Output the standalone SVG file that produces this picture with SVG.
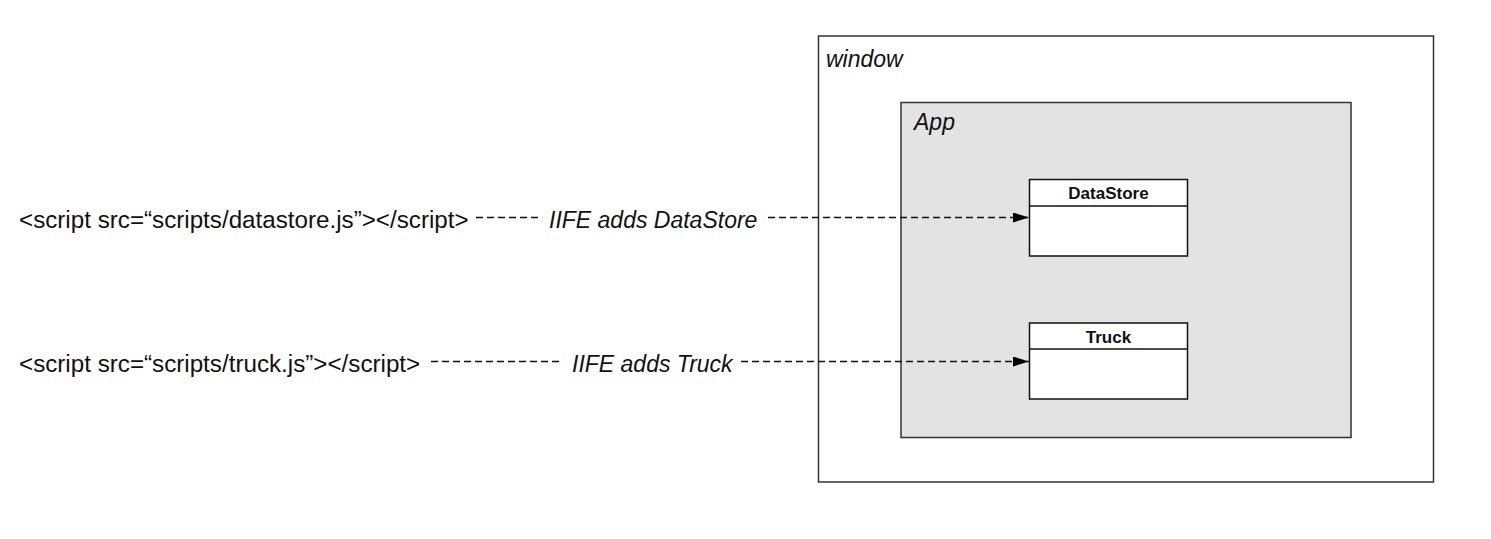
<svg xmlns="http://www.w3.org/2000/svg" width="1491" height="539" viewBox="0 0 1491 539">
<style>
.plain{font-family:"Liberation Sans",Arial,sans-serif;font-size:24.2px;fill:#111}
.it{font-family:"Liberation Sans",Arial,sans-serif;font-style:italic;font-size:23px;fill:#111}
.bold{font-family:"Liberation Sans",Arial,sans-serif;font-weight:bold;font-size:17px;fill:#111;text-anchor:middle}
.frame{stroke:#333;stroke-width:1.5}
.dash{stroke:#111;stroke-width:1.3;stroke-dasharray:7 4;fill:none}
</style>
<defs>
<marker id="arr" markerWidth="16" markerHeight="10" refX="16" refY="5" orient="auto" markerUnits="userSpaceOnUse">
<path d="M0,0 L16,5 L0,10 Z" fill="#000"/>
</marker>
</defs>
<rect width="1491" height="539" fill="#fff"/>
<g id="window">
<rect class="frame" x="818.5" y="36" width="615" height="446" fill="#fff"/>
<text class="it" x="826" y="66.5">window</text>
</g>
<g id="app">
<rect class="frame" x="901" y="102.5" width="450" height="335" fill="#e3e3e3"/>
<text class="it" x="914" y="129.5">App</text>
</g>
<g id="datastore">
<rect x="1029.5" y="179.5" width="158" height="76.5" fill="#fff" stroke="#111" stroke-width="1.5"/>
<line x1="1029.5" y1="206" x2="1187.5" y2="206" stroke="#111" stroke-width="1.5"/>
<text class="bold" x="1108.5" y="198.5">DataStore</text>
</g>
<g id="truck">
<rect x="1029.5" y="323" width="158" height="76" fill="#fff" stroke="#111" stroke-width="1.5"/>
<line x1="1029.5" y1="349" x2="1187.5" y2="349" stroke="#111" stroke-width="1.5"/>
<text class="bold" x="1108.5" y="342.5">Truck</text>
</g>
<g id="script-datastore">
<text class="plain" x="19" y="227.5">&lt;script src=“scripts/datastore.js”&gt;&lt;/script&gt;</text>
</g>
<g id="script-truck">
<text class="plain" x="19" y="371.5">&lt;script src=“scripts/truck.js”&gt;&lt;/script&gt;</text>
</g>
<g id="connectors">
<line class="dash" x1="476" y1="217.5" x2="541" y2="217.5"/>
<text class="it" x="549" y="227.5">IIFE adds DataStore</text>
<line class="dash" x1="768" y1="217.5" x2="1029" y2="217.5" marker-end="url(#arr)"/>
<line class="dash" x1="431" y1="361.5" x2="560" y2="361.5"/>
<text class="it" x="572" y="371.5">IIFE adds Truck</text>
<line class="dash" x1="741" y1="361.5" x2="1029" y2="361.5" marker-end="url(#arr)"/>
</g>
</svg>
